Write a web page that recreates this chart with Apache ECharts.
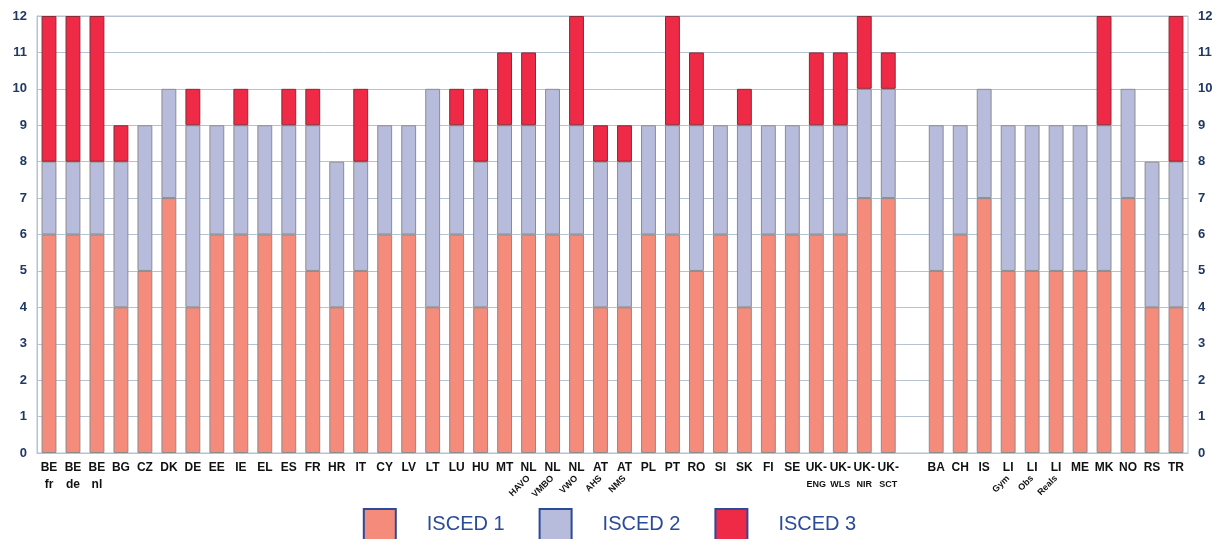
<!DOCTYPE html>
<html>
<head>
<meta charset="utf-8">
<script src="https://cdn.jsdelivr.net/npm/echarts@6/dist/echarts.min.js"></script>
<style>
  html, body { margin: 0; padding: 0; background: #fff; }
  #chart { width: 1219px; height: 539px; }
</style>
</head>
<body>
<div id="chart"></div>
<script>
// categories (empty one is the gap between EU and non-EU countries)
const countries = ['BE','BE','BE','BG','CZ','DK','DE','EE','IE','EL','ES','FR','HR','IT','CY','LV','LT','LU','HU','MT',
  'NL','NL','NL','AT','AT','PL','PT','RO','SI','SK','FI','SE','UK-','UK-','UK-','UK-','',
  'BA','CH','IS','LI','LI','LI','ME','MK','NO','RS','TR']
// second line under the code, straight
const subBig = ['fr','de','nl']
const subSmall = {32:'ENG',33:'WLS',34:'NIR',35:'SCT'}
// second line, slanted
const subRot = {20:'HAVO',21:'VMBO',22:'VWO',23:'AHS',24:'NMS',40:'Gym',41:'Obs',42:'Reals'}

// years per level
const isced1 = [6,6,6,4,5,7,4,6,6,6,6,5,4,5,6,6,4,6,4,6,6,6,6,4,4,6,6,5,6,4,6,6,6,6,7,7,null,5,6,7,5,5,5,5,5,7,4,4]
const isced2 = [2,2,2,4,4,3,5,3,3,3,3,4,4,3,3,3,6,3,4,3,3,4,3,4,4,3,3,4,3,5,3,3,3,3,3,3,null,4,3,3,4,4,4,4,4,3,4,4]
const isced3 = [4,4,4,1,0,0,1,0,1,0,1,1,0,2,0,0,0,1,2,2,2,0,3,1,1,0,3,2,0,1,0,0,2,2,2,1,null,0,0,0,0,0,0,0,3,0,0,4]

const yTicks = [0,1,2,3,4,5,6,7,8,9,10,11,12]

const cats = countries.map((c, i) => c + '_' + i)

const chart = echarts.init(document.getElementById('chart'))
const axisColor = '#1f3864'
const gridColor = '#b4c2d2'

const mkSeries = (name, data, color, border) => ({
  name: name,
  type: 'bar',
  stack: 'y',
  barCategoryGap: '38%',
  data: data.map(v => v === 0 ? null : v),
  itemStyle: { color: color, borderColor: border, borderWidth: 1 }
})

chart.setOption({
  animation: false,
  textStyle: { fontFamily: 'Liberation Sans, Arial, sans-serif' },
  grid: { left: 37, right: 31, top: 16, bottom: 86, show: true, borderColor: gridColor, borderWidth: 1 },
  legend: {
    bottom: -7,
    left: 'center',
    itemWidth: 32,
    itemHeight: 31,
    itemGap: 34,
    icon: 'rect',
    textStyle: { color: '#2a4a9a', fontSize: 20, padding: [0, 0, 0, 26] },
    data: [
      { name: 'ISCED 1', itemStyle: { borderColor: '#2a4a9a', borderWidth: 2 } },
      { name: 'ISCED 2', itemStyle: { borderColor: '#2a4a9a', borderWidth: 2 } },
      { name: 'ISCED 3', itemStyle: { borderColor: '#2a4a9a', borderWidth: 2 } }
    ]
  },
  xAxis: [
    {
      type: 'category',
      data: cats,
      axisLine: { lineStyle: { color: gridColor } },
      axisTick: { show: false },
      axisLabel: {
        interval: 0,
        margin: 6,
        color: '#111',
        fontWeight: 'bold',
        fontSize: 12,
        lineHeight: 17,
        formatter: (v, i) => {
          let s = countries[i]
          if (i < subBig.length) s += '\n' + subBig[i]
          else if (subSmall[i]) s += '\n{s|' + subSmall[i] + '}'
          return s
        },
        rich: { s: { fontSize: 9, fontWeight: 'bold', color: '#111', lineHeight: 17 } }
      }
    },
    {
      type: 'category',
      data: cats,
      position: 'bottom',
      axisLine: { show: false },
      axisTick: { show: false },
      axisLabel: {
        interval: 0,
        margin: 24,
        rotate: 45,
        color: '#111',
        fontWeight: 'bold',
        fontSize: 9,
        formatter: (v, i) => subRot[i] || ''
      }
    }
  ],
  yAxis: [
    {
      type: 'value', min: 0, max: 12, interval: 1,
      axisLine: { show: true, lineStyle: { color: gridColor } },
      axisTick: { show: false },
      splitLine: { lineStyle: { color: gridColor } },
      axisLabel: { color: axisColor, fontWeight: 'bold', fontSize: 13, margin: 10,
        formatter: v => yTicks.includes(v) ? String(v) : '' }
    },
    {
      type: 'value', min: 0, max: 12, interval: 1, position: 'right',
      axisLine: { show: false },
      axisTick: { show: false },
      splitLine: { show: false },
      axisLabel: { color: axisColor, fontWeight: 'bold', fontSize: 13, margin: 10, align: 'left' }
    }
  ],
  series: [
    mkSeries('ISCED 1', isced1, '#f58b7b', '#8c8c8c'),
    mkSeries('ISCED 2', isced2, '#b8bcdc', '#8c8c8c'),
    mkSeries('ISCED 3', isced3, '#ee2a47', '#8a2a36')
  ]
})
</script>
</body>
</html>
